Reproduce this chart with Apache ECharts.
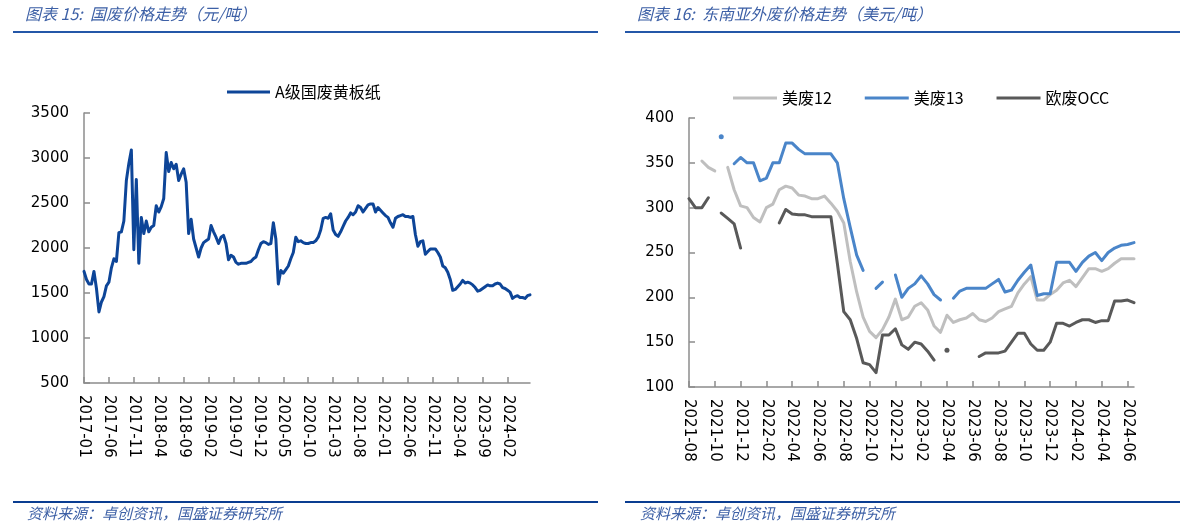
<!DOCTYPE html>
<html>
<head>
<meta charset="utf-8">
<title>国废与东南亚外废价格走势</title>
<script src="https://cdn.jsdelivr.net/npm/echarts@6/dist/echarts.min.js"></script>
<style>
    html, body { margin: 0; padding: 0; background: #fff; }
    #main { width: 1180px; height: 524px; }
</style>
</head>
<body>
<div id="main"></div>
<script>
// 生成半月一个的日期分类，如 2017-01-01, 2017-01-16 ...
function halfMonths(year, month, count) {
    var list = [];
    for (var i = 0; i < count; i++) {
        var m = month - 1 + Math.floor(i / 2);
        var y = year + Math.floor(m / 12);
        var mm = (m % 12) + 1;
        list.push(y + '-' + (mm < 10 ? '0' + mm : mm) + (i % 2 ? '-16' : '-01'));
    }
    return list;
}

// 图表15 国废价格（元/吨），半月取值
var gfDates = halfMonths(2017, 1, 180);
var gfPrice = [
    1740, 1650, 1600, 1600, 1740, 1550, 1290, 1400, 1460, 1580,
    1620, 1780, 1880, 1850, 2170, 2180, 2300, 2750, 2940, 3090,
    1980, 2760, 1830, 2340, 2160, 2300, 2180, 2230, 2250, 2470,
    2400, 2460, 2550, 3060, 2850, 2950, 2880, 2930, 2750, 2820,
    2880, 2730, 2160, 2320, 2100, 2000, 1900, 2000, 2060, 2080,
    2100, 2250, 2180, 2120, 2050, 2120, 2140, 2050, 1870, 1920,
    1900, 1840, 1820, 1830, 1830, 1830, 1840, 1850, 1880, 1900,
    1980, 2050, 2070, 2060, 2040, 2050, 2280, 2100, 1600, 1750,
    1720, 1760, 1800, 1880, 1950, 2120, 2070, 2080, 2060, 2050,
    2050, 2060, 2060, 2080, 2120, 2200, 2330, 2340, 2330, 2380,
    2200, 2150, 2130, 2180, 2240, 2300, 2340, 2390, 2370, 2400,
    2470, 2450, 2400, 2440, 2480, 2490, 2490, 2400, 2450, 2420,
    2390, 2360, 2340, 2280, 2230, 2330, 2350, 2360, 2370, 2350,
    2350, 2340, 2350, 2150, 2020, 2070, 2080, 1930, 1960, 1990,
    1990, 1990, 1950, 1900, 1800, 1780, 1730, 1650, 1530, 1540,
    1570, 1600, 1640, 1610, 1620, 1610, 1590, 1560, 1520, 1530,
    1550, 1570, 1590, 1580, 1580, 1600, 1610, 1600, 1560, 1550,
    1530, 1510, 1440, 1460, 1470, 1450, 1450, 1440, 1470, 1480
];
var gfTicks = [500, 3500, 500];

// 图表16 东南亚外废价格（美元/吨），半月取值，null 为缺数
var wfDates = halfMonths(2021, 8, 70);
var us12 = [
    null, null, 352, 345, 341, null, 345, 320, 302, 300,
    289, 284, 300, 304, 320, 324, 322, 314, 313, 310,
    310, 313, 305, 296, 283, 240, 206, 178, 162, 155,
    164, 178, 198, 175, 178, 190, 194, 186, 168, 161,
    180, 172, 175, 177, 182, 175, 173, 177, 184, 187,
    190, 205, 215, 223, 197, 197, 203, 208, 216, 219,
    212, 222, 232, 232, 229, 232, 238, 243, 243, 243
];
var us13 = [
    null, null, null, null, null, 379, null, 349, 356, 350,
    350, 330, 333, 350, 350, 372, 372, 365, 360, 360,
    360, 360, 360, 350, 310, 278, 247, 230, null, 210,
    217, null, 225, 200, 210, 215, 224, 215, 203, 197,
    null, 199, 207, 210, 210, 210, 210, 215, 220, 206,
    208, 219, 228, 236, 202, 204, 204, 239, 239, 239,
    229, 239, 246, 250, 241, 250, 255, 258, 259, 261
];
var euOcc = [
    310, 300, 300, 311, null, 294, 288, 282, 255, null,
    null, null, null, null, 283, 298, 293, 292, 292, 290,
    290, 290, 290, 238, 184, 175, 154, 127, 125, 116,
    158, 158, 165, 147, 142, 150, 148, 140, 130, null,
    141, null, null, null, null, 134, 138, 138, 138, 140,
    150, 160, 160, 148, 141, 141, 150, 171, 171, 168,
    172, 175, 175, 172, 174, 174, 196, 196, 197, 194
];
var wfTicks = [100, 400, 50];

(function () {
    var myChart = echarts.init(document.getElementById('main'));

    var numFont = 'DejaVu Sans';
    var cnFont = '"Noto Sans CJK SC"';
    var axisColor = '#8c8c8c';
    var noteColor = '#3d60a6';

    // 孤立的单个点画成小圆点，否则前后为空时看不见
    function withDots(arr) {
        return arr.map(function (v, i) {
            var prev = i > 0 ? arr[i - 1] : null;
            var next = i < arr.length - 1 ? arr[i + 1] : null;
            if (v != null && prev == null && next == null) {
                return { value: v, symbol: 'circle', symbolSize: 5 };
            }
            return v;
        });
    }

    function xAxisOf(gridIndex, dates, step) {
        return {
            type: 'category',
            gridIndex: gridIndex,
            data: dates,
            boundaryGap: false,
            axisLine: { lineStyle: { color: axisColor, width: 1.5 } },
            axisTick: { inside: true, length: 6, interval: step, lineStyle: { color: axisColor, width: 1.5 } },
            axisLabel: {
                interval: step,
                rotate: -90,
                margin: 12,
                color: '#000',
                fontFamily: numFont,
                fontSize: 15,
                formatter: function (v) { return v.slice(0, 7); }
            },
            splitLine: { show: false }
        };
    }

    function yAxisOf(gridIndex, ticks) {
        return {
            type: 'value',
            gridIndex: gridIndex,
            min: ticks[0],
            max: ticks[1],
            interval: ticks[2],
            axisLine: { show: true, lineStyle: { color: axisColor, width: 1.5 } },
            axisTick: { show: true, inside: true, length: 6, lineStyle: { color: axisColor, width: 1.5 } },
            axisLabel: {
                margin: 15, color: '#000', fontFamily: numFont, fontSize: 15,
                formatter: function (v) { return String(v); }
            },
            splitLine: { show: false }
        };
    }

    function lineOf(name, data, color, axisIndex) {
        return {
            name: name,
            type: 'line',
            xAxisIndex: axisIndex,
            yAxisIndex: axisIndex,
            data: withDots(data),
            symbol: 'none',
            showSymbol: true,
            showAllSymbol: true,
            connectNulls: false,
            itemStyle: { color: color },
            lineStyle: { color: color, width: 3, cap: 'round', join: 'round' }
        };
    }

    // 图例只画一段粗线
    var legendText = { color: '#000', fontFamily: cnFont, fontSize: 16 };

    var option = {
        animation: false,
        backgroundColor: '#fff',
        grid: [
            { left: 84, top: 113, width: 446, height: 270, containLabel: false, outerBoundsMode: 'none' },
            { left: 689, top: 118, width: 445, height: 269, containLabel: false, outerBoundsMode: 'none' }
        ],
        legend: [
            {
                data: ['A级国废黄板纸'],
                left: 222, top: 79,
                icon: 'rect', itemWidth: 43, itemHeight: 3,
                textStyle: legendText
            },
            {
                data: ['美废12', '美废13', '欧废OCC'],
                left: 728, top: 85,
                icon: 'rect', itemWidth: 44, itemHeight: 3, itemGap: 33,
                textStyle: legendText
            }
        ],
        xAxis: [xAxisOf(0, gfDates, 9), xAxisOf(1, wfDates, 3)],
        yAxis: [yAxisOf(0, gfTicks), yAxisOf(1, wfTicks)],
        series: [
            lineOf('A级国废黄板纸', gfPrice, '#0d4598', 0),
            lineOf('美废12', us12, '#bfbfbf', 1),
            lineOf('美废13', us13, '#4a85c9', 1),
            lineOf('欧废OCC', euOcc, '#595959', 1)
        ],
        graphic: [
            // 标题
            { type: 'text', x: 25, y: 14, style: { text: '图表 15:  国废价格走势（元/吨）', fill: noteColor, font: 'italic 16px ' + cnFont, verticalAlign: 'middle' } },
            { type: 'text', x: 637, y: 14, style: { text: '图表 16:  东南亚外废价格走势（美元/吨）', fill: noteColor, font: 'italic 16px ' + cnFont, verticalAlign: 'middle' } },
            { type: 'line', shape: { x1: 13, y1: 32, x2: 598, y2: 32 }, style: { stroke: '#2457a8', lineWidth: 2 } },
            { type: 'line', shape: { x1: 625, y1: 32, x2: 1180, y2: 32 }, style: { stroke: '#2457a8', lineWidth: 2 } },
            // 资料来源
            { type: 'line', shape: { x1: 13, y1: 502, x2: 598, y2: 502 }, style: { stroke: '#0a3d91', lineWidth: 2 } },
            { type: 'line', shape: { x1: 625, y1: 502, x2: 1180, y2: 502 }, style: { stroke: '#0a3d91', lineWidth: 2 } },
            { type: 'text', x: 27, y: 513, style: { text: '资料来源：卓创资讯，国盛证券研究所', fill: noteColor, font: 'italic 15px ' + cnFont, verticalAlign: 'middle' } },
            { type: 'text', x: 640, y: 513, style: { text: '资料来源：卓创资讯，国盛证券研究所', fill: noteColor, font: 'italic 15px ' + cnFont, verticalAlign: 'middle' } }
        ]
    };

    myChart.setOption(option);
})();
</script>
</body>
</html>
